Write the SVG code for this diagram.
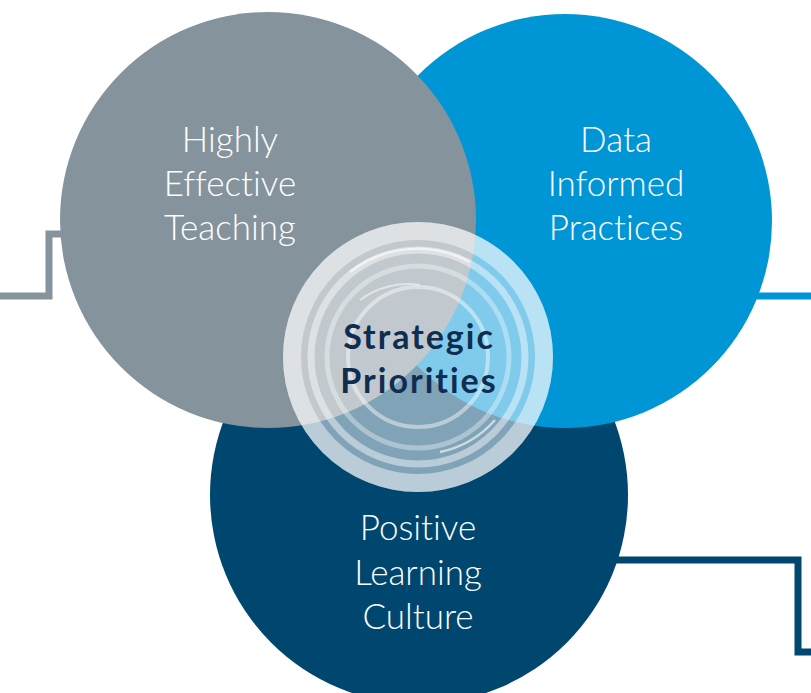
<svg xmlns="http://www.w3.org/2000/svg" width="811" height="693" viewBox="0 0 811 693">
  <style>
    text { font-variant-ligatures: none; }
    .label { font-family: "Lato", "Open Sans", "Liberation Sans", sans-serif; font-weight: 300; font-size: 35px; fill: #ffffff; text-anchor: middle; }
    .core { font-family: "Lato", "Open Sans", "Liberation Sans", sans-serif; font-weight: 700; font-size: 34px; letter-spacing: 2px; fill: #0e2d50; text-anchor: middle; }
    .link { fill: none; stroke-width: 7; stroke-linejoin: miter; }
    .ring { fill: none; stroke: #ffffff; }
  </style>
  <rect width="811" height="693" fill="#ffffff"/>

  <!-- connectors -->
  <g id="connectors">
    <path class="link" stroke="#85939d" d="M0,296 H49 V234 H80"/>
    <path class="link" stroke="#0096d6" d="M740,296 H811"/>
    <path class="link" stroke="#00476f" d="M600,560 H798 V652 H811"/>
  </g>

  <g id="culture">
    <circle cx="419" cy="495" r="209" fill="#00476f"/>
    <text class="label" x="418" y="540">Positive</text>
    <text class="label" x="418" y="585">Learning</text>
    <text class="label" x="418" y="629">Culture</text>
  </g>

  <g id="data">
    <circle cx="565" cy="221" r="207" fill="#0096d6"/>
    <text class="label" x="616" y="152">Data</text>
    <text class="label" x="616" y="196">Informed</text>
    <text class="label" x="616" y="240">Practices</text>
  </g>

  <g id="teaching">
    <circle cx="268" cy="220" r="208" fill="#85939d"/>
    <text class="label" x="230" y="152">Highly</text>
    <text class="label" x="230" y="196">Effective</text>
    <text class="label" x="230" y="240">Teaching</text>
  </g>

  <g id="priorities">
    <circle cx="418" cy="357" r="135" fill="#ffffff" fill-opacity="0.5"/>
    <circle class="ring" cx="418" cy="357" r="126" stroke-opacity="0.45" stroke-width="18"/>
    <circle class="ring" cx="418" cy="357" r="107" stroke-opacity="0.45" stroke-width="7"/>
    <circle class="ring" cx="418" cy="357" r="91" stroke-opacity="0.35" stroke-width="5"/>
    <circle class="ring" cx="418" cy="357" r="70" stroke-opacity="0.45" stroke-width="4"/>
    <path class="ring" d="M350,272 A110,110 0 0 1 470,262" stroke-opacity="0.6" stroke-width="2.5"/>
    <path class="ring" d="M495,420 A100,100 0 0 1 440,452" stroke-opacity="0.6" stroke-width="2.5"/>
    <path class="ring" d="M360,300 A80,80 0 0 1 420,285" stroke-opacity="0.5" stroke-width="2"/>
    <text class="core" x="419" y="349">Strategic</text>
    <text class="core" x="419" y="393">Priorities</text>
  </g>
</svg>
